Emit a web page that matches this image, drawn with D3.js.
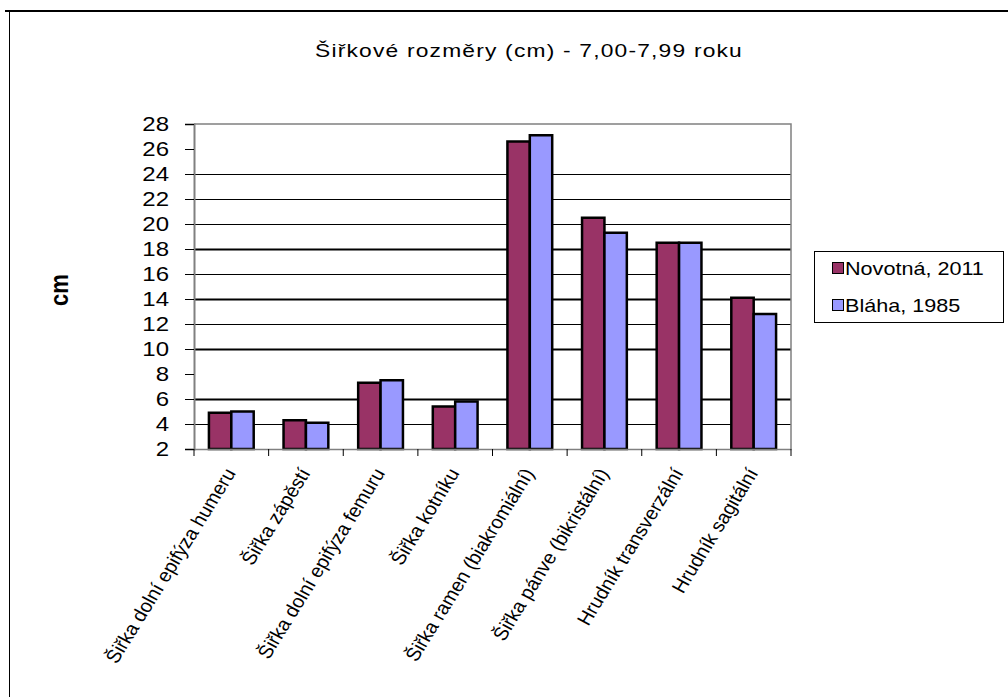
<!DOCTYPE html>
<html>
<head>
<meta charset="utf-8">
<script src="https://cdn.jsdelivr.net/npm/d3@7"></script>
<style>
  html, body { margin: 0; padding: 0; background: #fff; }
  svg { display: block; }
  text { font-family: "Liberation Sans", Arial, sans-serif; fill: #000; }
</style>
</head>
<body>
<svg id="chart" width="1008" height="697"></svg>
<script>
// Chart content
const titleText = "Šiřkové rozměry (cm) - 7,00-7,99 roku";
const yAxisTitle = "cm";
const categories = [
  "Šiřka dolní epifýza humeru",
  "Šiřka zápěstí",
  "Šiřka dolní epifýza femuru",
  "Šiřka kotníku",
  "Šiřka ramen (biakromiální)",
  "Šiřka pánve (bikristální)",
  "Hrudník transverzální",
  "Hrudník sagitální"
];
const seriesNames = ["Novotná, 2011", "Bláha, 1985"];
const novotna2011 = [4.9, 4.3, 7.3, 5.4, 26.6, 20.5, 18.5, 14.1];
const blaha1985  = [5.0, 4.1, 7.5, 5.8, 27.1, 19.3, 18.5, 12.8];
const yTicks = [2, 4, 6, 8, 10, 12, 14, 16, 18, 20, 22, 24, 26, 28];
const seriesColors = ["#993366", "#9999FF"];

const series = [novotna2011, blaha1985];
const SX = 1.2; // horizontal stretch of the lettering

const svg = d3.select("#chart");

// outer frame (top and left edges)
svg.append("line").attr("x1", 5).attr("x2", 1008).attr("y1", 11).attr("y2", 11)
  .attr("stroke", "#000").attr("stroke-width", 2);
svg.append("line").attr("x1", 9.5).attr("x2", 9.5).attr("y1", 11).attr("y2", 697)
  .attr("stroke", "#000").attr("stroke-width", 1);

const plot = { left: 194, right: 791, top: 124, bottom: 449 };

const x = d3.scaleBand().domain(categories).range([plot.left, plot.right]).padding(0);
const y = d3.scaleLinear().domain([2, 28]).range([plot.bottom, plot.top]);
const groupFrac = 0.6;
const xs = d3.scaleBand().domain(d3.range(series.length))
  .range([0, x.bandwidth() * groupFrac]).padding(0);

function stretchedText(g, px, py, rot, sx = SX) {
  return g.append("text")
    .attr("transform", `translate(${px},${py}) scale(${sx},1)` + (rot ? ` rotate(${rot})` : ""));
}

// title
stretchedText(svg, 529, 57).attr("text-anchor", "middle")
  .style("font-size", "19px").style("letter-spacing", "1px").text(titleText);

// y axis title
stretchedText(svg, 68, 290, -90).attr("text-anchor", "middle")
  .style("font-size", "22px").style("font-weight", "bold").text(yAxisTitle);

// horizontal gridlines
const gridG = svg.append("g");
yTicks.filter(v => v > 2 && v < 28 && v !== 8 && v !== 26).forEach(v => {
  const w = (v === 6 || v === 10 || v === 14 || v === 18) ? 2 : 1.2;
  gridG.append("line")
    .attr("x1", plot.left).attr("x2", plot.right)
    .attr("y1", Math.round(y(v)) + 0.5).attr("y2", Math.round(y(v)) + 0.5)
    .attr("stroke", "#000").attr("stroke-width", w);
});

// plot area border (top and right)
svg.append("path")
  .attr("d", `M${plot.left},${plot.top}H${plot.right}V${plot.bottom}`)
  .attr("fill", "none").attr("stroke", "#808080").attr("stroke-width", 1.5);

// bars
const groups = svg.append("g").selectAll("g")
  .data(categories).join("g")
  .attr("transform", d => `translate(${x(d) + x.bandwidth() * (1 - groupFrac) / 2},0)`);
groups.selectAll("rect")
  .data((d, i) => series.map((s, k) => ({ k, v: s[i] })))
  .join("rect")
  .attr("x", d => xs(d.k))
  .attr("width", xs.bandwidth())
  .attr("y", d => y(d.v))
  .attr("height", d => y(2) - y(d.v))
  .attr("fill", d => seriesColors[d.k])
  .attr("stroke", "#000").attr("stroke-width", 2.5);

// y axis
const yAxis = svg.append("g")
  .attr("transform", `translate(${plot.left},0)`)
  .call(d3.axisLeft(y).tickValues(yTicks).tickSize(9).tickFormat(""));
yAxis.select(".domain").attr("stroke", "#808080").attr("stroke-width", 2);
yAxis.selectAll(".tick line").attr("stroke", "#000");
yTicks.forEach(v => {
  stretchedText(svg, 169, y(v) + 7).attr("text-anchor", "end")
    .style("font-size", "20px").text(v);
});

// x axis
const xAxis = svg.append("g")
  .attr("transform", `translate(0,${plot.bottom})`)
  .call(d3.axisBottom(x).tickSize(0).tickFormat(""));
xAxis.select(".domain").attr("stroke", "#808080").attr("stroke-width", 1.5);
const bounds = categories.map(c => x(c)).concat([plot.right]);
xAxis.selectAll(".bound").data(bounds).join("line").attr("class", "bound")
  .attr("x1", d => d).attr("x2", d => d).attr("y1", 0).attr("y2", 7)
  .attr("stroke", "#000").attr("stroke-width", 1);

categories.forEach(c => {
  const cx = x(c) + x.bandwidth() / 2;
  stretchedText(svg, cx + 5, plot.bottom + 24, -60, 1.08).attr("text-anchor", "end")
    .style("font-size", "18.7px").text(c);
});

// legend
const lg = svg.append("g");
lg.append("rect").attr("x", 814.5).attr("y", 251.5).attr("width", 189).attr("height", 71)
  .attr("fill", "#fff").attr("stroke", "#000").attr("stroke-width", 1);
seriesNames.forEach((name, k) => {
  const ly = 262 + k * 37;
  lg.append("rect").attr("x", 832.5).attr("y", ly + 0.5).attr("width", 11).attr("height", 11)
    .attr("fill", seriesColors[k]).attr("stroke", "#000").attr("stroke-width", 1);
  stretchedText(lg, 845, ly + 13).style("font-size", "18px").text(name);
});
</script>
</body>
</html>
